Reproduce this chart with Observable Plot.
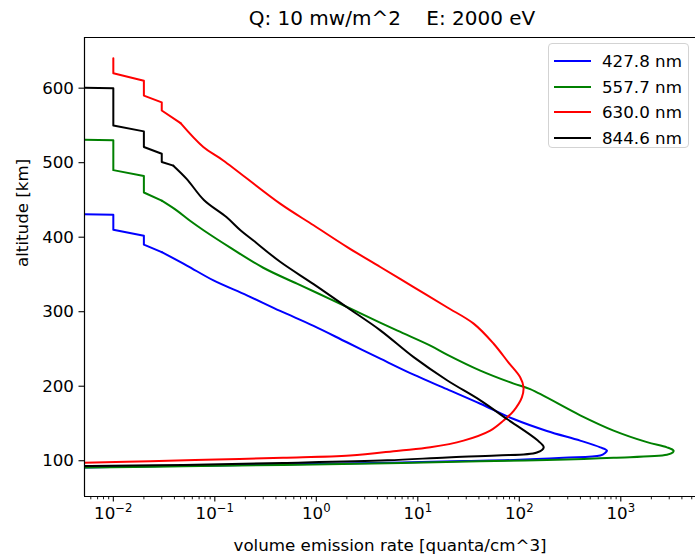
<!DOCTYPE html>
<html><head><meta charset="utf-8">
<script src="https://cdn.jsdelivr.net/npm/d3@7"></script>
<script src="https://cdn.jsdelivr.net/npm/@observablehq/plot@0.6"></script>
<style>
body{margin:0;background:#fff;}
#wrap{position:relative;width:695px;height:558px;font-family:"DejaVu Sans",sans-serif;color:#000;}
#title{position:absolute;left:0;top:8px;width:784px;text-align:center;font-size:20px;line-height:20px;white-space:pre;}
#legend{position:absolute;left:548px;top:43px;width:141px;height:105px;border:1px solid #d3d3d3;border-radius:4px;background:rgba(255,255,255,0.8);box-sizing:border-box;}
.row{position:absolute;left:0;height:20px;width:140px;}
.row .sw{position:absolute;left:5px;top:9px;width:37px;height:0;border-top:2px solid #000;}
.row .lb{position:absolute;left:53px;top:0;font-size:16.7px;line-height:20px;white-space:pre;}
</style></head>
<body><div id="wrap"><div id="title"></div><div id="legend"></div></div>
<script>
const title = "Q: 10 mw/m^2    E: 2000 eV";
const xLabel = "volume emission rate [quanta/cm^3]";
const yLabel = "altitude [km]";
const names = ["427.8 nm", "557.7 nm", "630.0 nm", "844.6 nm"];
const colors = ["#0000ff", "#008000", "#ff0000", "#000000"];
const xTicks = [0.01, 0.1, 1, 10, 100, 1000];
const xTickLabels = ["10⁻²", "10⁻¹", "10⁰", "10¹", "10²", "10³"];
const xTickExp = ["\u22122", "\u22121", "0", "1", "2", "3"];
const yTicks = [100, 200, 300, 400, 500, 600];

// 427.8 nm
const alt4278 = [440, 430, 410, 402, 390, 380, 362, 342, 322, 301, 281, 259, 237, 215.5, 196, 176.5, 156, 140, 127, 118, 113.6, 110.5, 107, 104, 101, 99.5, 97, 95, 93, 91, 89.5];
const val4278 = [1e-6, 0.01, 0.01, 0.02, 0.02, 0.03, 0.053, 0.097, 0.207, 0.44, 0.94, 2.0, 4.27, 9.1, 19.4, 41.3, 88, 187, 398, 628, 731, 700, 628, 273, 88, 28, 3.5, 0.4, 0.04, 0.005, 0.001];
// 557.7 nm
const alt5577 = [540, 530, 490, 482, 460, 449, 436, 422, 409, 386, 359, 337.6, 317, 296, 274.6, 254.5, 242.5, 221, 203.5, 196, 161, 140.5, 125, 118, 113.6, 111, 108, 104, 101, 99.3, 96.6, 94.4, 92.5, 91, 90];
const val5577 = [1e-6, 0.01, 0.01, 0.02, 0.02, 0.03, 0.042, 0.057, 0.078, 0.142, 0.30, 0.645, 1.37, 2.9, 6.3, 13.3, 19.4, 41.3, 88, 128, 398, 849, 1811, 2850, 3310, 3250, 2850, 849, 187, 41, 5, 0.47, 0.049, 0.006, 0.002];
// 630.0 nm
const alt6300 = [640, 620, 610, 590, 581, 570, 553, 521, 503, 445, 416, 387, 360, 333, 306, 284, 257, 232, 212, 198.5, 185, 167, 154, 140.5, 127, 118, 113.5, 107, 104, 101.6, 99.3, 97.3, 96];
const val6300 = [0.01, 0.01, 0.02, 0.02, 0.03, 0.03, 0.046, 0.077, 0.121, 0.44, 0.94, 2.0, 4.27, 9.1, 19.4, 35.5, 55.9, 78, 102, 110, 106, 88, 70, 51.7, 28.2, 13.3, 6.5, 2.15, 0.47, 0.104, 0.023, 0.005, 0.002];
// 844.6 nm
const alt8446 = [610, 600, 550, 542, 521, 512, 501, 496, 478, 450, 427, 409, 395.5, 367, 337, 306, 275, 239, 208, 181, 156, 128, 118, 111, 107, 104.5, 100.5, 97, 94.4, 93, 92];
const val8446 = [1e-6, 0.01, 0.01, 0.02, 0.02, 0.03, 0.03, 0.039, 0.053, 0.078, 0.13, 0.18, 0.24, 0.44, 0.94, 2.0, 4.27, 9.1, 19.4, 41.3, 75.6, 149, 174, 149, 60, 19.4, 5, 0.47, 0.049, 0.006, 0.002];

// altitude below which each profile is drawn as a smooth curve (the stepped top stays straight)
const smoothBelow = [380, 449, 553, 496];

const series = [
  {name: names[0], alt: alt4278, val: val4278},
  {name: names[1], alt: alt5577, val: val5577},
  {name: names[2], alt: alt6300, val: val6300},
  {name: names[3], alt: alt8446, val: val8446}
];
const rows = series.flatMap((s, k) => s.alt.map((a, i) => ({name: s.name, alt: a, val: s.val[i], cut: smoothBelow[k]})));
const topRows = rows.filter(d => d.alt >= d.cut);
const lowRows = rows.filter(d => d.alt <= d.cut);

const xDomain = [0.0052, 5445];
const yDomain = [52, 668];
const minorX = d3.range(-3, 4).flatMap(k => d3.range(2, 10).map(m => m * Math.pow(10, k)))
  .filter(v => v > xDomain[0] && v < xDomain[1]);

const fs = 16.7;
const lineMarks = names.flatMap(n => [
  Plot.line(topRows.filter(d => d.name === n), {x: "val", y: "alt", stroke: "name", strokeWidth: 2, clip: true, curve: "linear"}),
  Plot.line(lowRows.filter(d => d.name === n), {x: "val", y: "alt", stroke: "name", strokeWidth: 2, clip: true, curve: "catmull-rom"})
]);

const chart = Plot.plot({
  width: 695, height: 558,
  marginLeft: 84, marginRight: 0, marginTop: 37, marginBottom: 62,
  style: {fontFamily: "DejaVu Sans", fontSize: fs + "px", color: "#000", background: "transparent", overflow: "visible"},
  x: {type: "log", domain: xDomain},
  y: {domain: yDomain},
  color: {domain: names, range: colors},
  marks: [
    ...lineMarks,
    Plot.axisX({ticks: minorX, tickSize: 3.3, tickFormat: () => "", label: null, strokeWidth: 0.9}),
    Plot.axisX({ticks: xTicks, tickSize: 5.5, tickPadding: 5, tickFormat: d => xTickLabels[xTicks.indexOf(d)], label: null, fontSize: fs, strokeWidth: 1.1}),
    Plot.axisY({ticks: yTicks, tickSize: 5.5, tickPadding: 5, tickFormat: d => String(d), label: null, fontSize: fs, strokeWidth: 1.1}),
    Plot.ruleX([xDomain[0]], {strokeWidth: 1.2}),
    Plot.ruleY(yDomain, {strokeWidth: 1.2}),
    Plot.text([xLabel], {frameAnchor: "bottom", dy: 49, text: d => d, fontSize: fs, lineAnchor: "middle"}),
    Plot.text([yLabel], {frameAnchor: "left", dx: -62, rotate: -90, text: d => d, fontSize: fs, lineAnchor: "middle"})
  ]
});

// render x tick labels as 10 with a raised exponent, like mathtext
d3.select(chart).selectAll("text").each(function() {
  const i = xTickLabels.indexOf(this.textContent);
  if (i < 0) return;
  const t = d3.select(this);
  t.text("10");
  t.append("tspan").attr("dy", "-6.5").attr("font-size", (fs * 0.7).toFixed(1)).text(xTickExp[i]);
});

const wrap = document.getElementById("wrap");
wrap.insertBefore(chart, wrap.firstChild);
document.getElementById("title").textContent = title;

const legend = document.getElementById("legend");
const rowTops = [7, 32.7, 58, 83.7];
names.forEach((n, i) => {
  const r = document.createElement("div");
  r.className = "row";
  r.style.top = rowTops[i] + "px";
  const sw = document.createElement("div");
  sw.className = "sw";
  sw.style.borderTopColor = colors[i];
  const lb = document.createElement("div");
  lb.className = "lb";
  lb.textContent = n;
  r.appendChild(sw); r.appendChild(lb);
  legend.appendChild(r);
});
</script>
</body></html>
